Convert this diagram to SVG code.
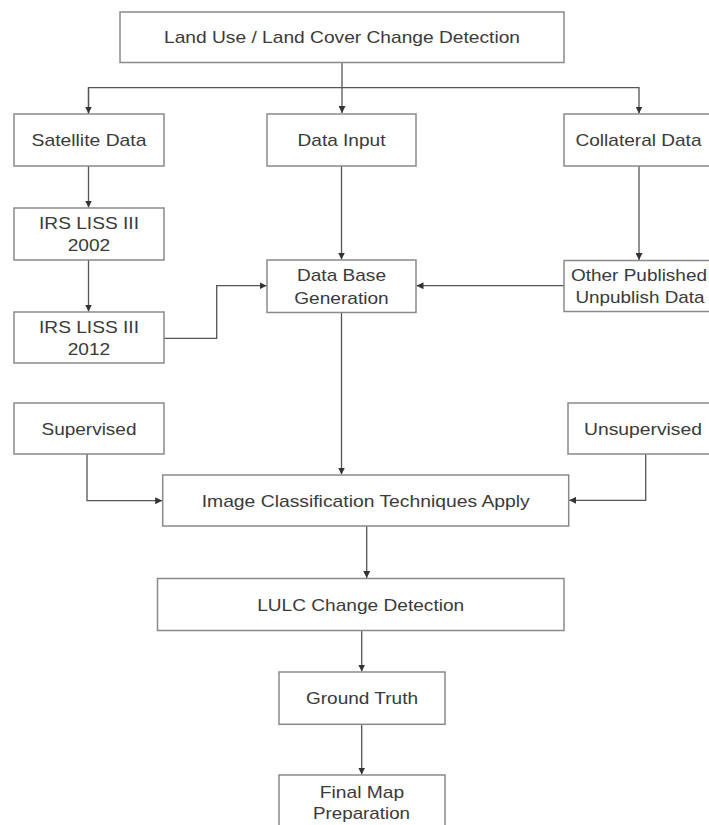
<svg xmlns="http://www.w3.org/2000/svg" width="709" height="825" viewBox="0 0 709 825">
<style>
.box{fill:#fff;stroke:#8a8a8a;stroke-width:1.5}
.t{font-family:"Liberation Sans",Arial,sans-serif;font-size:17px;fill:#3a3a3a;text-anchor:middle}
.c{fill:none;stroke:#555;stroke-width:1.3}
</style>
<defs>
<marker id="ah" viewBox="0 0 8 8" refX="8" refY="4" markerWidth="7" markerHeight="7" markerUnits="userSpaceOnUse" orient="auto">
<path d="M0,0 L8,4 L0,8 Z" fill="#333"/>
</marker>
</defs>
<rect width="709" height="825" fill="#fff"/>
<g id="connectors">
<path class="c" d="M342,62.5 V113" marker-end="url(#ah)"/>
<path class="c" d="M88.5,114 V87.7 H639 V113.5" marker-end="url(#ah)"/>
<path class="c" d="M88.5,87.7 V113.5" marker-end="url(#ah)"/>
<path class="c" d="M88.5,166 V207.5" marker-end="url(#ah)"/>
<path class="c" d="M88.5,260 V311.5" marker-end="url(#ah)"/>
<path class="c" d="M341.5,166 V259.5" marker-end="url(#ah)"/>
<path class="c" d="M639,166 V260" marker-end="url(#ah)"/>
<path class="c" d="M164,338.3 H216.7 V285.7 H266.5" marker-end="url(#ah)"/>
<path class="c" d="M564,285.7 H416.5" marker-end="url(#ah)"/>
<path class="c" d="M341.5,312.5 V474.5" marker-end="url(#ah)"/>
<path class="c" d="M87,454 V500.7 H162.2" marker-end="url(#ah)"/>
<path class="c" d="M645.7,454 V500.3 H569.2" marker-end="url(#ah)"/>
<path class="c" d="M366.7,526 V578" marker-end="url(#ah)"/>
<path class="c" d="M361.7,630.7 V671.5" marker-end="url(#ah)"/>
<path class="c" d="M361.7,724.3 V774.5" marker-end="url(#ah)"/>
</g>
<g id="n-lulc-top"><rect class="box" x="120" y="12" width="444" height="50.5"/><text class="t" x="342" y="43" textLength="356" lengthAdjust="spacingAndGlyphs">Land Use / Land Cover Change Detection</text></g>
<g id="n-satellite"><rect class="box" x="14" y="114" width="150" height="52"/><text class="t" x="89" y="146" textLength="115" lengthAdjust="spacingAndGlyphs">Satellite Data</text></g>
<g id="n-datainput"><rect class="box" x="267" y="114" width="149" height="52"/><text class="t" x="341.5" y="146" textLength="88" lengthAdjust="spacingAndGlyphs">Data Input</text></g>
<g id="n-collateral"><rect class="box" x="564" y="114" width="152" height="52"/><text class="t" x="638.5" y="146" textLength="126" lengthAdjust="spacingAndGlyphs">Collateral Data</text></g>
<g id="n-irs2002"><rect class="box" x="14" y="208" width="150" height="52"/><text class="t" x="89" y="229" textLength="100" lengthAdjust="spacingAndGlyphs">IRS LISS III</text><text class="t" x="89" y="251" textLength="42.5" lengthAdjust="spacingAndGlyphs">2002</text></g>
<g id="n-irs2012"><rect class="box" x="14" y="312" width="150" height="51"/><text class="t" x="89" y="332.5" textLength="100" lengthAdjust="spacingAndGlyphs">IRS LISS III</text><text class="t" x="89" y="355" textLength="42.5" lengthAdjust="spacingAndGlyphs">2012</text></g>
<g id="n-dbgen"><rect class="box" x="267" y="260" width="149" height="52.5"/><text class="t" x="341.5" y="281" textLength="89" lengthAdjust="spacingAndGlyphs">Data Base</text><text class="t" x="341.5" y="303.5" textLength="94.5" lengthAdjust="spacingAndGlyphs">Generation</text></g>
<g id="n-other"><rect class="box" x="564" y="260.5" width="152" height="51"/><text class="t" x="639" y="281" textLength="136" lengthAdjust="spacingAndGlyphs">Other Published</text><text class="t" x="640" y="302.5" textLength="129" lengthAdjust="spacingAndGlyphs">Unpublish Data</text></g>
<g id="n-supervised"><rect class="box" x="14" y="403" width="150" height="51"/><text class="t" x="89" y="434.5" textLength="95" lengthAdjust="spacingAndGlyphs">Supervised</text></g>
<g id="n-unsupervised"><rect class="box" x="568" y="403" width="150" height="51"/><text class="t" x="643" y="434.5" textLength="118" lengthAdjust="spacingAndGlyphs">Unsupervised</text></g>
<g id="n-classification"><rect class="box" x="162.7" y="475" width="406" height="51"/><text class="t" x="365.7" y="506.5" textLength="328" lengthAdjust="spacingAndGlyphs">Image Classification Techniques Apply</text></g>
<g id="n-lulc-change"><rect class="box" x="157.5" y="578.5" width="406.5" height="52"/><text class="t" x="360.7" y="610.5" textLength="207" lengthAdjust="spacingAndGlyphs">LULC Change Detection</text></g>
<g id="n-ground"><rect class="box" x="279" y="672" width="166" height="52.3"/><text class="t" x="362" y="704" textLength="112" lengthAdjust="spacingAndGlyphs">Ground Truth</text></g>
<g id="n-final"><rect class="box" x="279" y="775" width="166" height="53"/><text class="t" x="362" y="797.7" textLength="84.5" lengthAdjust="spacingAndGlyphs">Final Map</text><text class="t" x="361.5" y="818.7" textLength="97" lengthAdjust="spacingAndGlyphs">Preparation</text></g>
</svg>
